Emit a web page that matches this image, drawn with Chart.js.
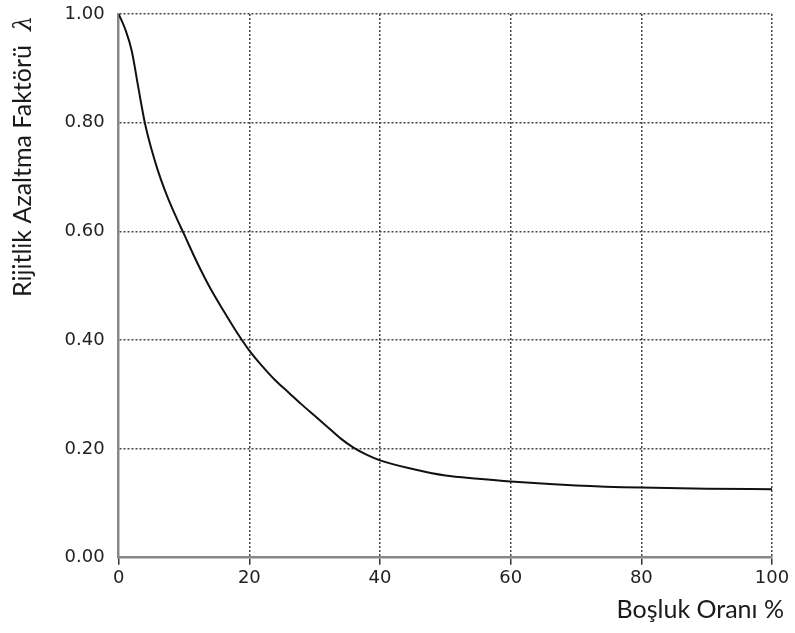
<!DOCTYPE html>
<html>
<head>
<meta charset="utf-8">
<script src="https://cdn.jsdelivr.net/npm/chart.js@4.4.0/dist/chart.umd.min.js"></script>
<style>
  html, body { margin: 0; padding: 0; background: #fff; }
  #wrap { width: 795px; height: 633px; position: relative; }
</style>
</head>
<body>
<div id="wrap"><canvas id="chart"></canvas></div>
<script>
// Void ratio (%) vs. stiffness reduction factor (lambda)
const voidRatio = [0, 1, 2, 3, 4, 5, 6, 7, 8, 9, 10, 12, 14, 16, 18, 20, 22, 24, 26, 28, 30, 32, 34, 36, 38, 40, 45, 50, 55, 60, 70, 80, 90, 100];
const lambdaValues = [1.00, 0.972, 0.932, 0.865, 0.80, 0.752, 0.712, 0.678, 0.648, 0.621, 0.595, 0.543, 0.496, 0.455, 0.416, 0.381, 0.352, 0.326, 0.304, 0.282, 0.261, 0.240, 0.219, 0.202, 0.189, 0.179, 0.163, 0.151, 0.145, 0.140, 0.133, 0.129, 0.127, 0.126];
const xTicks = [0, 20, 40, 60, 80, 100];
const yTicks = [0, 0.2, 0.4, 0.6, 0.8, 1.0];

const xTitle = 'Boşluk Oranı %';
const yTitle = 'Rijitlik Azaltma Faktörü';
const yTitleSymbol = 'λ';

const points = voidRatio.map((v, i) => ({ x: v, y: lambdaValues[i] }));

// draw axis titles by hand so they sit where the original has them
const axisTitles = {
  id: 'axisTitles',
  afterDraw(chart) {
    const ctx = chart.ctx;
    ctx.save();
    ctx.fillStyle = '#1a1a1a';
    ctx.textBaseline = 'alphabetic';

    // x title, right aligned under the axis
    ctx.font = '25px Lato';
    ctx.textAlign = 'right';
    ctx.fillText(xTitle, 784, 618);

    // y title, rotated
    ctx.translate(31, 297);
    ctx.rotate(-Math.PI / 2);
    ctx.textAlign = 'left';
    ctx.font = '25px Lato';
    ctx.fillText(yTitle, 0, 0);
    const w = ctx.measureText(yTitle).width;
    ctx.font = 'italic 24px "DejaVu Serif"';
    ctx.fillText(yTitleSymbol, w + 14, 0);
    ctx.restore();
  }
};

const gridDash = [2, 2];

new Chart(document.getElementById('chart'), {
  type: 'line',
  data: {
    datasets: [{
      data: points,
      borderColor: '#111',
      borderWidth: 2,
      pointRadius: 0,
      cubicInterpolationMode: 'monotone',
      fill: false
    }]
  },
  options: {
    responsive: true,
    maintainAspectRatio: false,
    animation: false,
    layout: { padding: { top: 14, right: 23, left: 0, bottom: 0 } },
    plugins: { legend: { display: false }, tooltip: { enabled: false } },
    scales: {
      x: {
        type: 'linear',
        min: 0, max: 100,
        afterBuildTicks: s => { s.ticks = xTicks.map(v => ({ value: v })); },
        afterFit: s => { s.height = 75.3; s.paddingLeft = 0; s.paddingRight = 0; },
        ticks: {
          color: '#222',
          font: { family: 'DejaVu Sans', size: 18 },
          padding: 3,
          maxRotation: 0,
          callback: v => String(v)
        },
        grid: {
          color: ctx => ctx.tick && ctx.tick.value === 0 ? 'rgba(0,0,0,0)' : '#444',
          lineWidth: 1.5,
          tickColor: '#333',
          tickLength: 7,
          tickBorderDash: [],
          drawOnChartArea: true
        },
        border: { display: true, color: '#888', width: 2.5, dash: gridDash }
      },
      y: {
        type: 'linear',
        min: 0, max: 1,
        afterBuildTicks: s => { s.ticks = yTicks.map(v => ({ value: v })); },
        afterFit: s => { s.width = 118.7; s.paddingTop = 0; s.paddingBottom = 0; },
        ticks: {
          color: '#222',
          font: { family: 'DejaVu Sans', size: 18 },
          padding: 14,
          callback: v => Number(v).toFixed(2)
        },
        grid: {
          color: ctx => ctx.tick && ctx.tick.value === 0 ? 'rgba(0,0,0,0)' : '#444',
          lineWidth: 1.5,
          drawTicks: false
        },
        border: { display: true, color: '#888', width: 2.5, dash: gridDash }
      }
    }
  },
  plugins: [axisTitles]
});
</script>
</body>
</html>
